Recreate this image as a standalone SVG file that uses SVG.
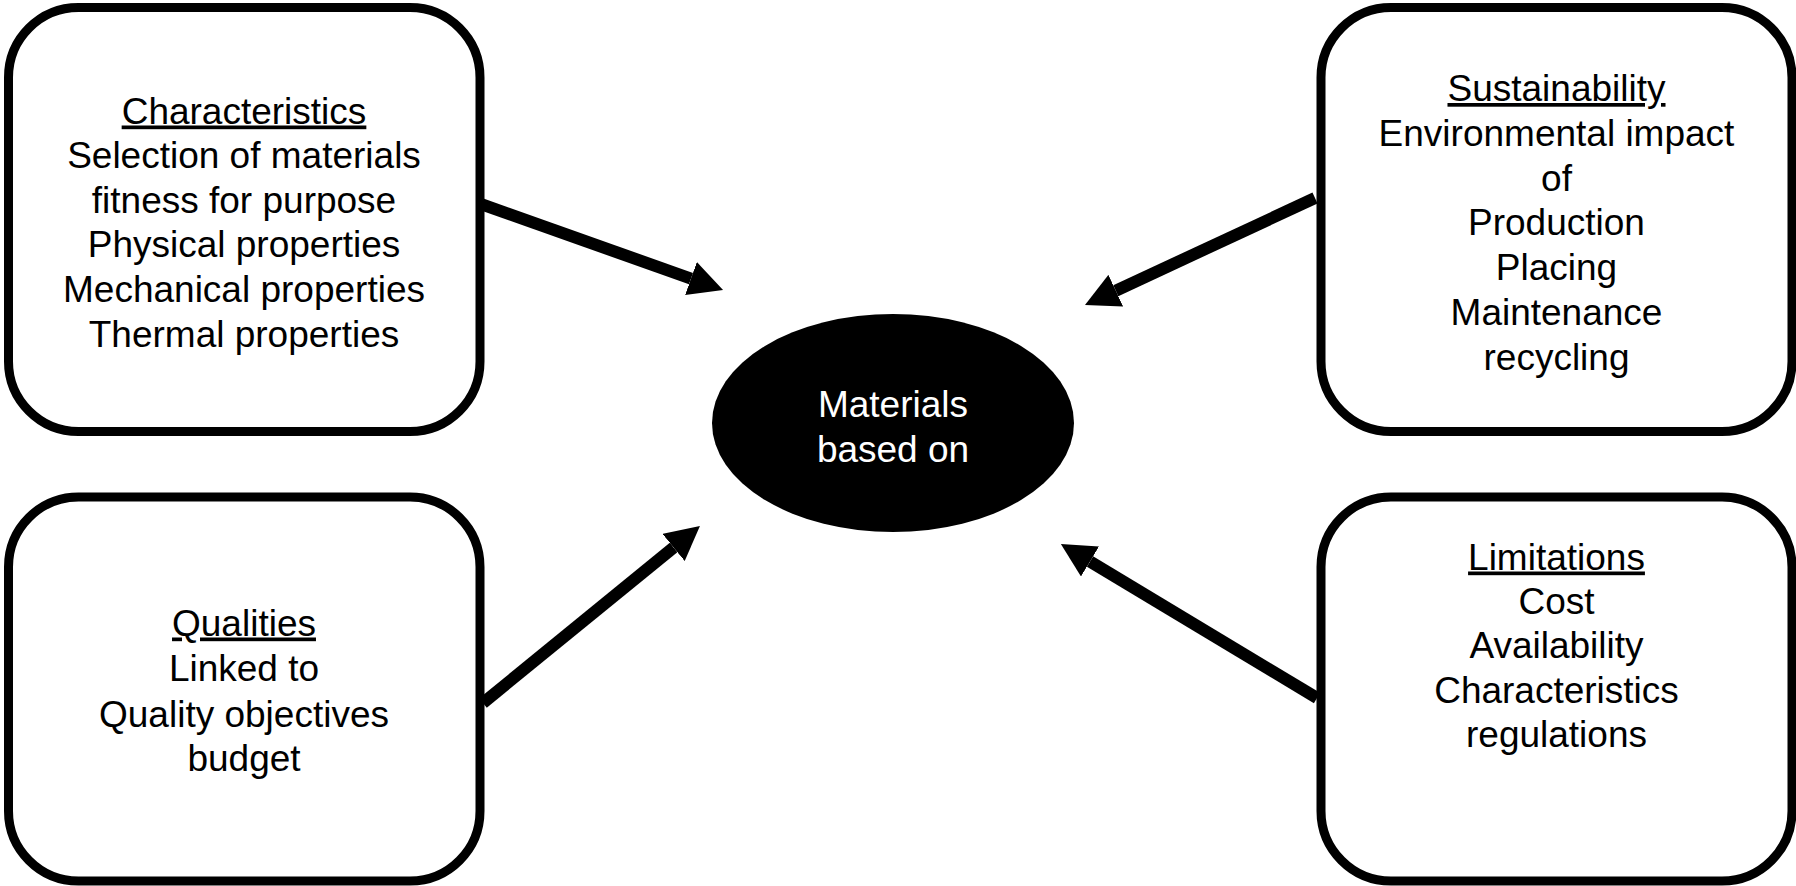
<svg xmlns="http://www.w3.org/2000/svg" width="1796" height="886" viewBox="0 0 1796 886">
  <defs>
    <style>
      .box { fill: #ffffff; stroke: #000000; stroke-width: 9; }
      .lbl { font-family: "Liberation Sans", Arial, sans-serif; font-size: 37px; fill: #000000; text-anchor: middle; }
      .head { text-decoration: underline; }
      .hub { fill: #000000; }
      .hubtxt { font-family: "Liberation Sans", Arial, sans-serif; font-size: 37px; fill: #ffffff; text-anchor: middle; }
      .link { stroke: #000000; stroke-width: 12; fill: none; marker-end: url(#tip); }
    </style>
    <marker id="tip" markerUnits="userSpaceOnUse" markerWidth="34" markerHeight="35" viewBox="0 0 34 35" refX="0" refY="17.5" orient="auto">
      <path d="M0,0 L34,17.5 L0,35 Z" fill="#000000"/>
    </marker>
  </defs>

  <rect width="1796" height="886" fill="#ffffff"/>

  <!-- connectors: each box points at the central ellipse -->
  <g id="connectors">
    <line class="link" x1="478" y1="203" x2="691" y2="278.6"/>
    <line class="link" x1="1315" y1="198" x2="1115.8" y2="290.7"/>
    <line class="link" x1="483" y1="703" x2="673.6" y2="547.5"/>
    <line class="link" x1="1317" y1="698" x2="1090" y2="561.5"/>
  </g>

  <g id="characteristics">
    <rect class="box" x="8.5" y="7.5" width="471.5" height="424" rx="70" ry="70"/>
    <text class="lbl head" x="244" y="123.5">Characteristics</text>
    <text class="lbl" x="244" y="168">Selection of materials</text>
    <text class="lbl" x="244" y="212.5">fitness for purpose</text>
    <text class="lbl" x="244" y="257">Physical properties</text>
    <text class="lbl" x="244" y="302">Mechanical properties</text>
    <text class="lbl" x="244" y="346.5">Thermal properties</text>
  </g>

  <g id="sustainability">
    <rect class="box" x="1321" y="7.5" width="471" height="424" rx="70" ry="70"/>
    <text class="lbl head" x="1556.5" y="101">Sustainability</text>
    <text class="lbl" x="1556.5" y="145.8">Environmental impact</text>
    <text class="lbl" x="1556.5" y="190.6">of</text>
    <text class="lbl" x="1556.5" y="235.4">Production</text>
    <text class="lbl" x="1556.5" y="280.2">Placing</text>
    <text class="lbl" x="1556.5" y="325">Maintenance</text>
    <text class="lbl" x="1556.5" y="369.8">recycling</text>
  </g>

  <g id="qualities">
    <rect class="box" x="8.5" y="497" width="471.5" height="384" rx="70" ry="70"/>
    <text class="lbl head" x="244" y="635.5">Qualities</text>
    <text class="lbl" x="244" y="681">Linked to</text>
    <text class="lbl" x="244" y="726.5">Quality objectives</text>
    <text class="lbl" x="244" y="771">budget</text>
  </g>

  <g id="limitations">
    <rect class="box" x="1321" y="497" width="471" height="384" rx="70" ry="70"/>
    <text class="lbl head" x="1556.5" y="569.5">Limitations</text>
    <text class="lbl" x="1556.5" y="614">Cost</text>
    <text class="lbl" x="1556.5" y="658">Availability</text>
    <text class="lbl" x="1556.5" y="702.5">Characteristics</text>
    <text class="lbl" x="1556.5" y="747">regulations</text>
  </g>

  <g id="materials">
    <ellipse class="hub" cx="893" cy="423" rx="181" ry="109"/>
    <text class="hubtxt" x="893" y="417">Materials</text>
    <text class="hubtxt" x="893" y="462">based on</text>
  </g>
</svg>
